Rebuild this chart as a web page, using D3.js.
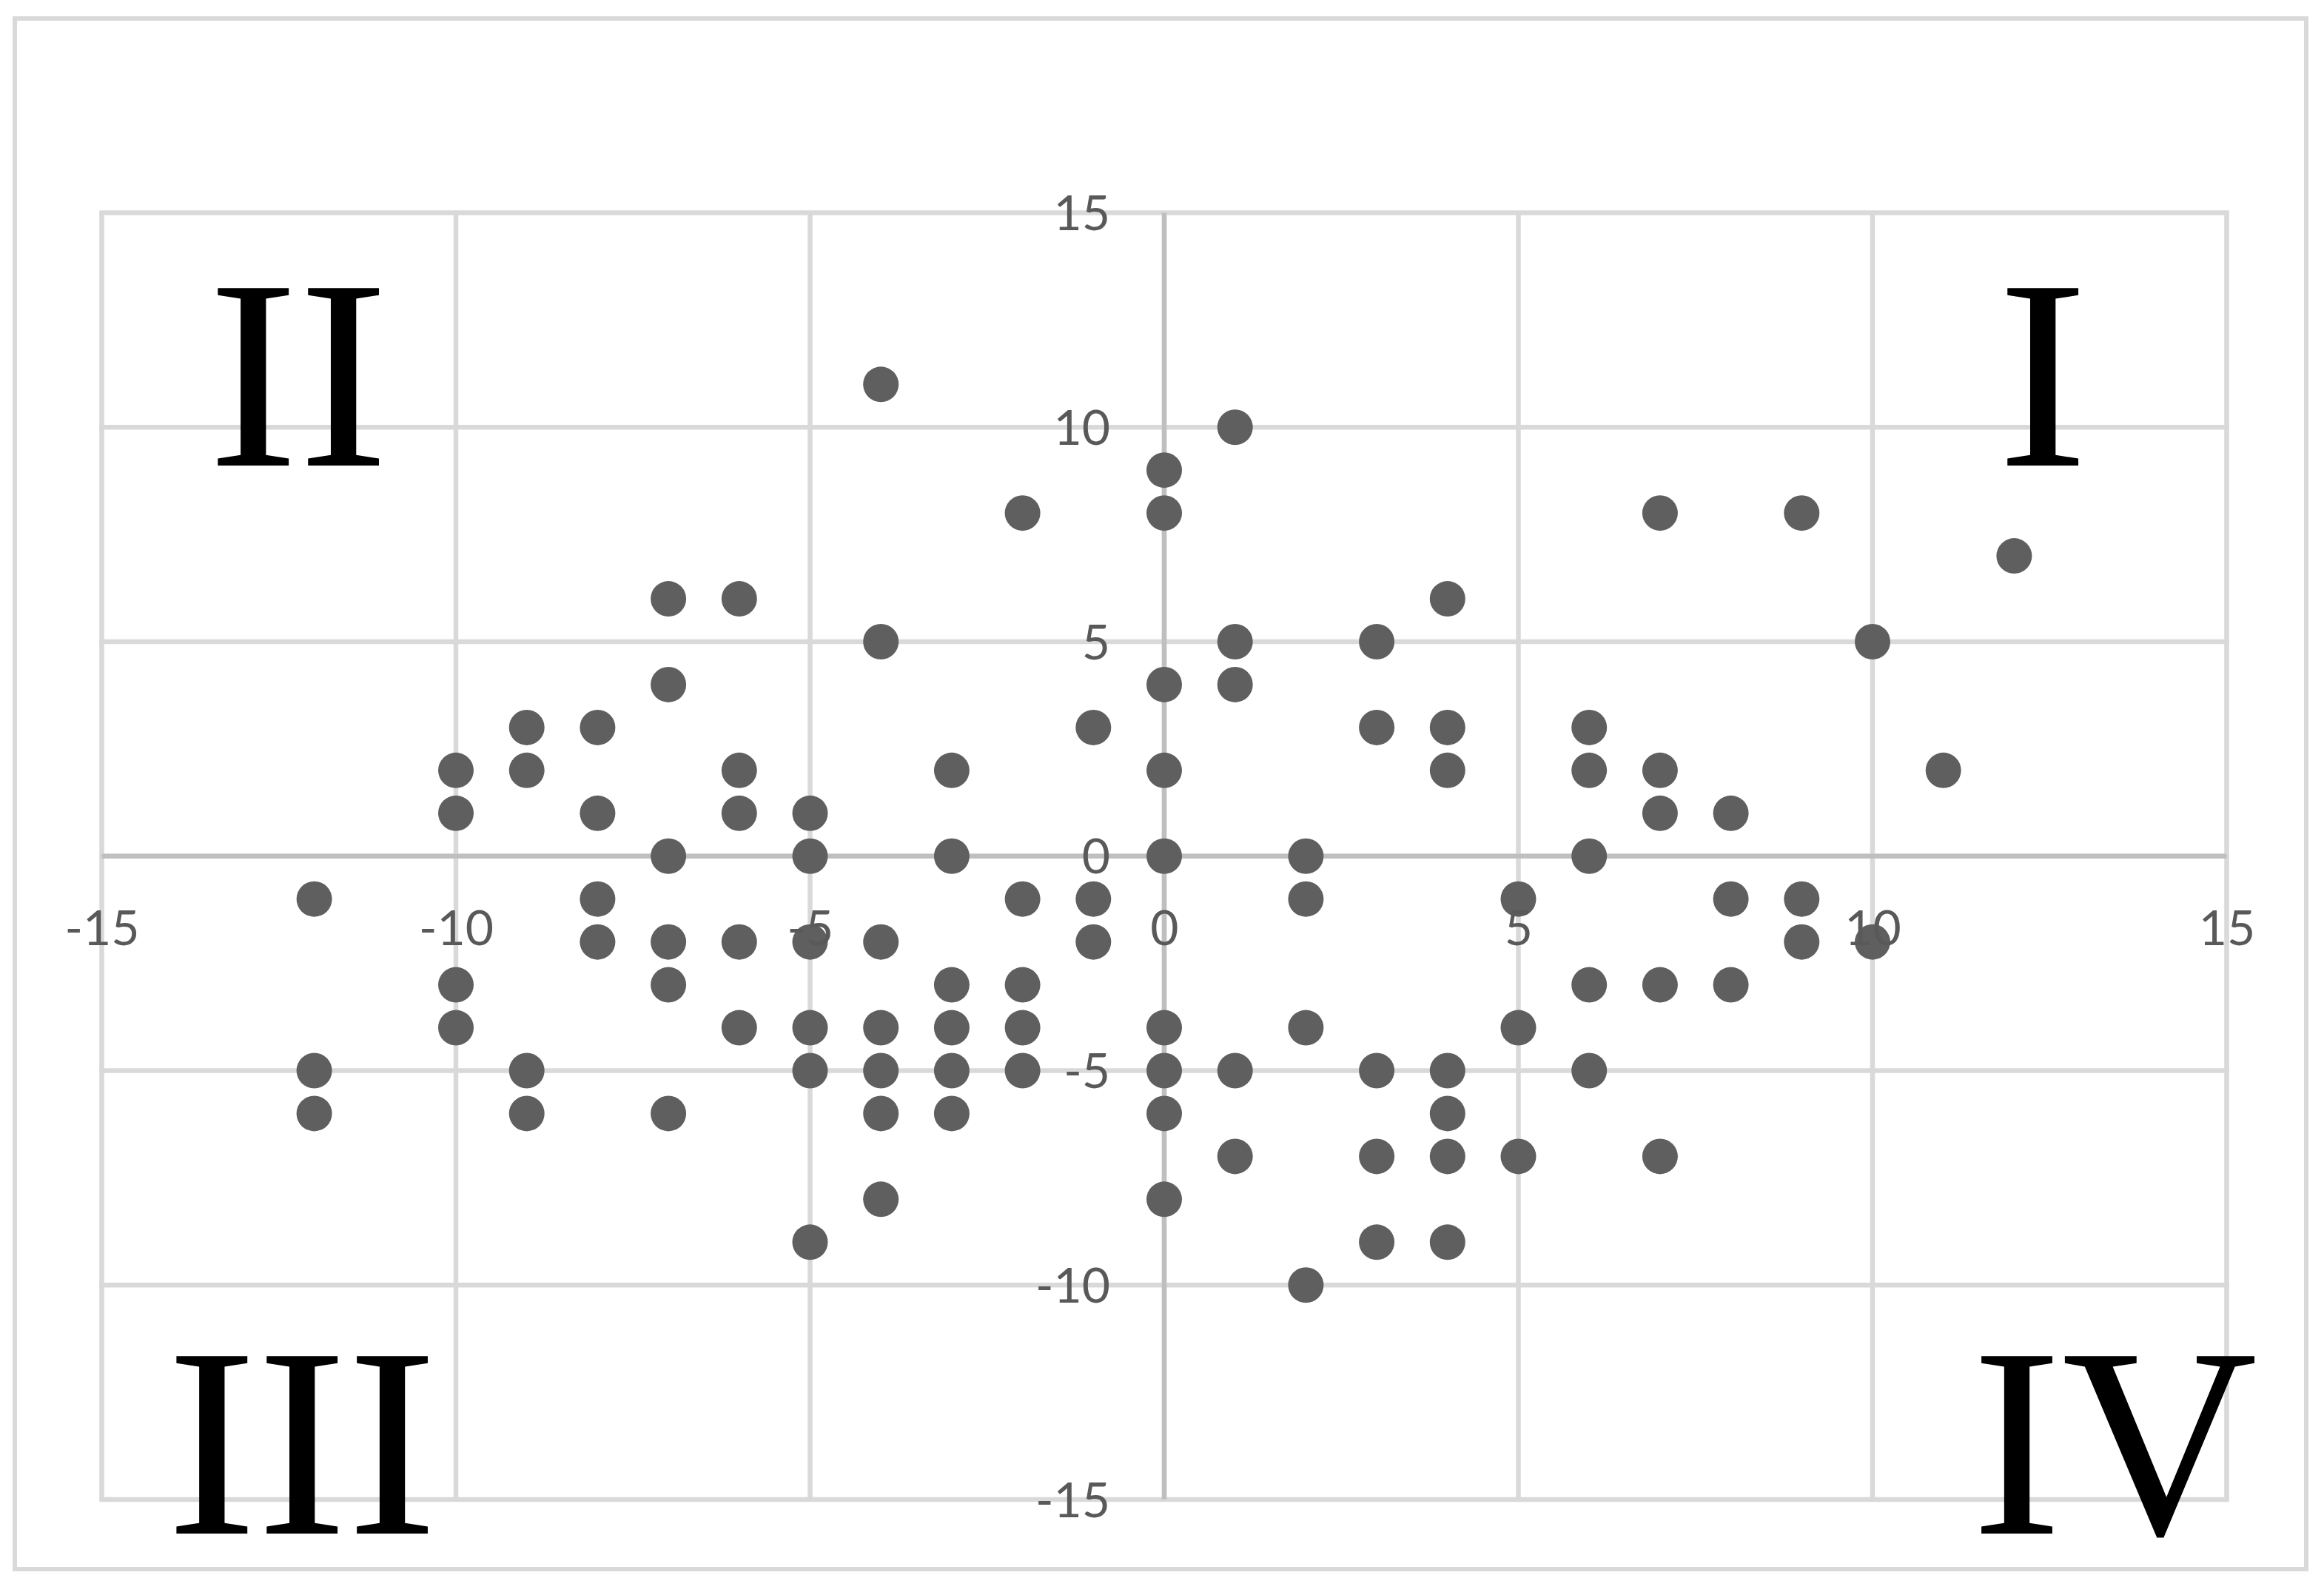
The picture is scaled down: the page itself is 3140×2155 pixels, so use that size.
<!DOCTYPE html>
<html>
<head>
<meta charset="utf-8">
<script src="https://cdn.jsdelivr.net/npm/d3@7"></script>
<style>
  html, body { margin: 0; padding: 0; background: #ffffff; }
  svg { display: block; }
</style>
</head>
<body>
<div id="chart"></div>
<script>
// ---- data ----
const xValues = [-4, 1, 0, 0, -2, 7, 9, 12, -7, -6, 4, -4, 1, 3, 10, -7, 0, 1,
  -9, -8, -1, 3, 4, 6, -10, -9, -6, -3, 0, 4, 6, 7, 11, -10, -8, -6, -5, 7, 8,
  -7, -5, -3, 0, 2, 6, -12, -8, -2, -1, 2, 5, 8, 9, -8, -7, -6, -5, -4, -1, 9, 10,
  -10, -7, -3, -2, 6, 7, 8, -10, -6, -5, -4, -3, -2, 0, 2, 5,
  -12, -9, -5, -4, -3, -2, 0, 1, 3, 4, 6, -12, -9, -7, -4, -3, 0, 4,
  1, 3, 4, 5, 7, -4, 0, -5, 3, 4, 2];
const yValues = [11, 10, 9, 8, 8, 8, 8, 7, 6, 6, 6, 5, 5, 5, 5, 4, 4, 4,
  3, 3, 3, 3, 3, 3, 2, 2, 2, 2, 2, 2, 2, 2, 2, 1, 1, 1, 1, 1, 1,
  0, 0, 0, 0, 0, 0, -1, -1, -1, -1, -1, -1, -1, -1, -2, -2, -2, -2, -2, -2, -2, -2,
  -3, -3, -3, -3, -3, -3, -3, -4, -4, -4, -4, -4, -4, -4, -4, -4,
  -5, -5, -5, -5, -5, -5, -5, -5, -5, -5, -5, -6, -6, -6, -6, -6, -6, -6,
  -7, -7, -7, -7, -7, -8, -8, -9, -9, -9, -10];
const xTicks = [-15, -10, -5, 0, 5, 10, 15];
const yTicks = [-15, -10, -5, 0, 5, 10, 15];
const quadrantLabels = ["I", "II", "III", "IV"];

// ---- layout ----
const W = 3140, H = 2155;
const svg = d3.select("#chart").append("svg").attr("width", W).attr("height", H);
svg.append("rect").attr("width", W).attr("height", H).attr("fill", "#ffffff");

// outer chart border
svg.append("rect")
  .attr("x", 20).attr("y", 25).attr("width", 3096).attr("height", 2095)
  .attr("fill", "none").attr("stroke", "#d9d9d9").attr("stroke-width", 6);

const x = d3.scaleLinear().domain([-15, 15]).range([137.5, 3008.5]);
const y = d3.scaleLinear().domain([-15, 15]).range([2026, 287.5]);

const gridColor = "#d9d9d9", axisColor = "#bfbfbf", lineW = 6.5;

// gridlines
svg.append("g").selectAll("line").data(xTicks).join("line")
  .attr("x1", d => x(d)).attr("x2", d => x(d))
  .attr("y1", y(15)).attr("y2", y(-15))
  .attr("stroke", gridColor).attr("stroke-width", lineW);
svg.append("g").selectAll("line").data(yTicks).join("line")
  .attr("x1", x(-15) - lineW / 2).attr("x2", x(15) + lineW / 2)
  .attr("y1", d => y(d)).attr("y2", d => y(d))
  .attr("stroke", gridColor).attr("stroke-width", lineW);

// axis lines
svg.append("line")
  .attr("x1", x(-15)).attr("x2", x(15)).attr("y1", y(0)).attr("y2", y(0))
  .attr("stroke", axisColor).attr("stroke-width", lineW);
svg.append("line")
  .attr("x1", x(0)).attr("x2", x(0)).attr("y1", y(15)).attr("y2", y(-15))
  .attr("stroke", axisColor).attr("stroke-width", lineW);

// quadrant numerals
const romanFont = "'Liberation Serif', 'Times New Roman', serif";
const quadPos = { "I": [2760, 629], "II": [403, 629], "III": [408, 2072], "IV": [2857, 2072] };
svg.append("g").selectAll("text").data(quadrantLabels).join("text")
  .attr("x", d => quadPos[d][0]).attr("y", d => quadPos[d][1])
  .attr("text-anchor", "middle")
  .attr("font-family", romanFont).attr("font-size", 366)
  .attr("fill", "#000000")
  .text(d => d);

// points
const pts = xValues.map((v, i) => ({ x: v, y: yValues[i] }));
svg.append("g").selectAll("circle").data(pts).join("circle")
  .attr("cx", d => x(d.x)).attr("cy", d => y(d.y)).attr("r", 24)
  .attr("fill", "#5f5f5f");

// tick labels via d3 axes
const labelFont = "Lato, 'Open Sans', sans-serif";
const fmt = d => String(d);
const gx = svg.append("g").attr("transform", `translate(0,${y(0)})`)
  .call(d3.axisBottom(x).tickValues(xTicks).tickSize(0).tickFormat(fmt));
gx.select(".domain").remove();
gx.selectAll("text").attr("dy", null).attr("y", 120)
  .attr("font-family", labelFont).attr("font-size", 66).attr("fill", "#595959");

const gy = svg.append("g").attr("transform", `translate(${x(0)},0)`)
  .call(d3.axisLeft(y).tickValues(yTicks).tickSize(0).tickFormat(fmt));
gy.select(".domain").remove();
gy.selectAll("text").attr("x", -73).attr("dy", "0.35em")
  .attr("font-family", labelFont).attr("font-size", 66).attr("fill", "#595959");
</script>
</body>
</html>
